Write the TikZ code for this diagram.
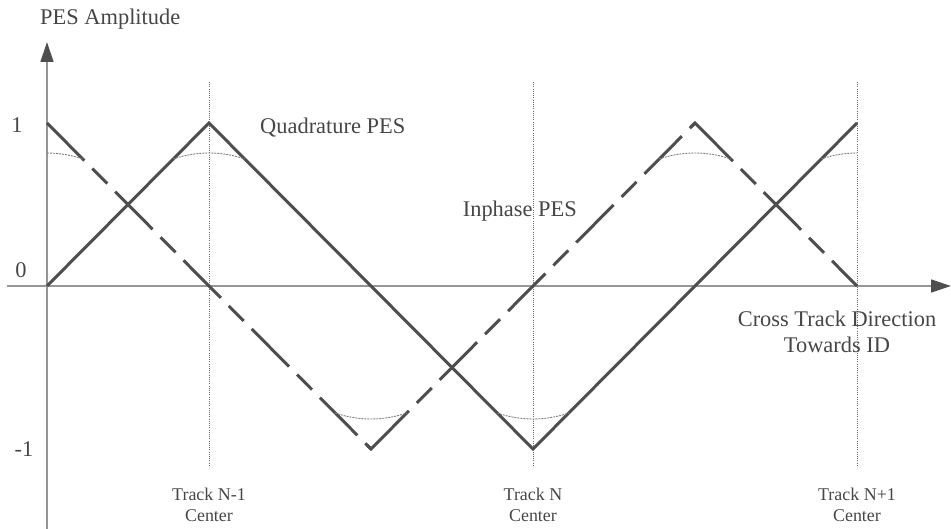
\documentclass[tikz,border=0pt]{standalone}
\usepackage{fontspec}
\setmainfont{Liberation Serif}
\usetikzlibrary{arrows.meta,calc}
\definecolor{ink}{RGB}{78,78,78}
\definecolor{axisgray}{RGB}{150,150,150}
\definecolor{guide}{RGB}{105,105,105}
\definecolor{arcgray}{RGB}{125,125,125}
\definecolor{txt}{RGB}{70,70,70}

\begin{document}
\begin{tikzpicture}[x=1bp,y=-1bp,
  axisline/.style={draw=axisgray, line width=1.3bp,
    -{Triangle[length=20bp,width=13bp,color=ink]}},
  solidpes/.style={draw=ink, line width=3bp, line join=miter},
  dashpes/.style={draw=ink, line width=3bp, line join=miter,
    dash pattern=on 53bp off 11.3bp on 21.2bp off 11.3bp},
  % after a corner the first dash also covers the short stub before the vertex
  dashpesjoin/.style={draw=ink, line width=3bp, line join=miter,
    dash pattern=on 59.4bp off 11.3bp on 21.2bp off 11.3bp
                 on 53bp off 11.3bp on 21.2bp off 11.3bp
                 on 53bp off 11.3bp on 21.2bp off 11.3bp
                 on 53bp off 11.3bp on 21.2bp off 11.3bp
                 on 53bp off 11.3bp on 21.2bp off 11.3bp},
  trackline/.style={draw=guide, line width=0.9bp, dash pattern=on 1bp off 1.2bp},
  arcline/.style={draw=arcgray, line width=0.9bp, dash pattern=on 2bp off 1bp},
  lbl/.style={text=txt, font=\fontsize{22.5}{26}\selectfont, inner sep=0pt},
  tracklbl/.style={text=txt, font=\fontsize{18}{21}\selectfont, inner sep=0pt, anchor=base},
  % rounded crest below a peak and above a trough
  toparc/.pic={\draw[arcline] (-36,36) .. controls (-12,28) and (12,28) .. (36,36);},
  botarc/.pic={\draw[arcline] (-36,-36) .. controls (-12,-28) and (12,-28) .. (36,-36);},
  toparcright/.pic={\draw[arcline] (0,30) .. controls (12,30) and (24,32) .. (36,36);},
  toparcleft/.pic={\draw[arcline] (-36,36) .. controls (-24,32) and (-12,30) .. (0,30);}
]
\useasboundingbox (0,0) rectangle (951,529);

% axes
\coordinate (xs) at (7,286);
\coordinate (xe) at (951,286);
\coordinate (ys) at (47,529);
\coordinate (ye) at (47,42);

% track centres
\coordinate (t1a) at (209,82);  \coordinate (t1b) at (209,467);
\coordinate (t2a) at (533,82);  \coordinate (t2b) at (533,467);
\coordinate (t3a) at (857,82);  \coordinate (t3b) at (857,467);

% quadrature signal (solid)
\coordinate (s0) at (47,286);
\coordinate (s1) at (209,123);
\coordinate (s2) at (533,449);
\coordinate (s3) at (857,123);

% inphase signal (dashed)
\coordinate (d0) at (47,123);
\coordinate (d1) at (371,449);
\coordinate (d2) at (695,123);
\coordinate (d3) at (857,286);
\coordinate (d1s) at (367,445);
\coordinate (d2s) at (691,127);

\draw[trackline] (t1a) -- (t1b);
\draw[trackline] (t2a) -- (t2b);
\draw[trackline] (t3a) -- (t3b);

\draw[axisline] (xs) -- (xe);
\draw[axisline] (ys) -- (ye);

\draw[solidpes] (s0) -- (s1) -- (s2) -- (s3);

\draw[dashpes] (d0) -- (d1);
\draw[dashpesjoin] (d1s) -- (d1) -- (d2);
\draw[dashpesjoin] (d2s) -- (d2) -- (d3);

% crest arcs
\pic at (d0) {toparcright};
\pic at (s1) {toparc};
\pic at (d1) {botarc};
\pic at (s2) {botarc};
\pic at (d2) {toparc};
\pic at (s3) {toparcleft};

% labels
\node[lbl, anchor=base west] (ylab) at (40,25) {PES Amplitude};
\node[lbl, anchor=base] (one) at (17,133) {1};
\node[lbl, anchor=base] (zero) at (21,278) {0};
\node[lbl, anchor=base] (mone) at (24,456) {-1};
\node[lbl, anchor=base west] (quad) at (260,134) {Quadrature PES};
\node[lbl, anchor=base east] (inph) at (577,217) {Inphase PES};
\node[lbl, anchor=base] (xl1) at (837,327) {Cross Track Direction};
\node[lbl, anchor=base] (xl2) at (837,353) {Towards ID};

\node[tracklbl] (tr1) at (209,500) {Track N-1};
\node[tracklbl] (tr1c) at (209,521.5) {Center};
\node[tracklbl] (tr2) at (533,500) {Track N};
\node[tracklbl] (tr2c) at (533,521.5) {Center};
\node[tracklbl] (tr3) at (857,500) {Track N+1};
\node[tracklbl] (tr3c) at (857,521.5) {Center};
\end{tikzpicture}
\end{document}
